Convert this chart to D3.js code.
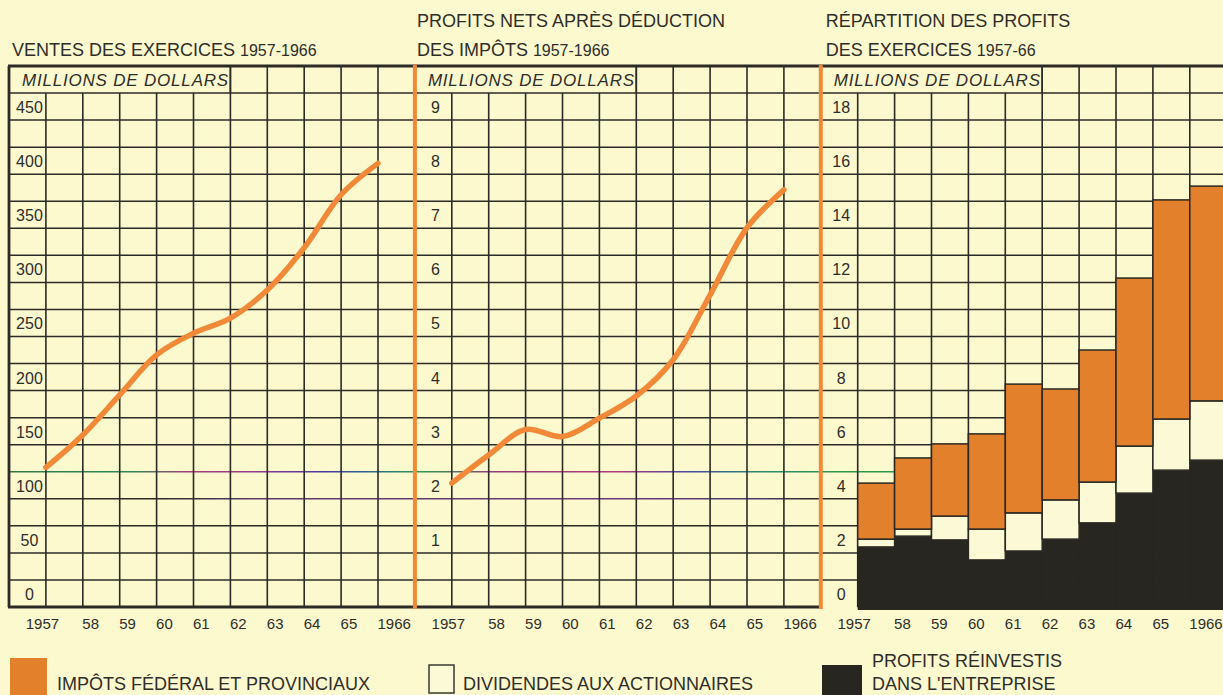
<!DOCTYPE html>
<html><head><meta charset="utf-8">
<script src="https://cdn.jsdelivr.net/npm/d3@7"></script>
<style>
html,body{margin:0;padding:0;background:#fcf9cf;overflow:hidden;}
svg{display:block;}
text{font-family:"Liberation Sans",Arial,Helvetica,sans-serif;fill:#2f2d29;}
</style></head><body>
<svg id="chart" width="1223" height="695"></svg>
<script>
// ---------- data ----------
const years = [1957, 1958, 1959, 1960, 1961, 1962, 1963, 1964, 1965, 1966];
const yearLabels = ["1957", "58", "59", "60", "61", "62", "63", "64", "65", "1966"];
const salesTicks = [0, 50, 100, 150, 200, 250, 300, 350, 400, 450];
const profitTicks = [1, 2, 3, 4, 5, 6, 7, 8, 9];
const splitTicks = [0, 2, 4, 6, 8, 10, 12, 14, 16, 18];
// ventes (millions $)
const sales = [129, 159, 196, 233, 253, 267, 293, 332, 381, 410];
// profits nets après impôts (millions $)
const netProfits = [2.29, 2.81, 3.28, 3.15, 3.49, 3.90, 4.57, 5.77, 7.01, 7.71];
// répartition des profits (millions $)
const reinvested = [2.22, 2.62, 2.48, 1.74, 2.07, 2.51, 3.11, 4.21, 5.06, 5.43];
const dividends = [0.29, 0.26, 0.88, 1.14, 1.41, 1.45, 1.51, 1.74, 1.89, 2.19];
const taxes = [2.07, 2.63, 2.67, 3.52, 4.76, 4.10, 4.88, 6.21, 8.10, 7.94];
const panelTitles = [
  ["VENTES DES EXERCICES", "1957-1966"],
  ["PROFITS NETS APRÈS DÉDUCTION", "DES IMPÔTS", "1957-1966"],
  ["RÉPARTITION DES PROFITS", "DES EXERCICES", "1957-66"]
];
const unitLabel = "MILLIONS DE DOLLARS";
const legendLabels = ["IMPÔTS FÉDÉRAL ET PROVINCIAUX", "DIVIDENDES AUX ACTIONNAIRES", "PROFITS RÉINVESTIS", "DANS L'ENTREPRISE"];

// ---------- styles ----------
const W = 1223, H = 695;
const BG = "#fcf9cf", GRID = "#2c2b27", ORANGE_LINE = "#f08a38", ORANGE_BAR = "#e2802c", BLACK = "#272621", WHITE_BOX = "#fcf9d6";
const gx0 = 9, colW = 36.9, nCols = 33;
const bottomY = 607, rowH = 27.05;

const svg = d3.select("#chart");
svg.append("rect").attr("width", W).attr("height", H).attr("fill", BG);

// print artefact tints on two grid lines
const defs = svg.append("defs");
const g1 = defs.append("linearGradient").attr("id", "tint1").attr("gradientUnits", "userSpaceOnUse")
  .attr("x1", 9).attr("x2", 1223).attr("y1", 0).attr("y2", 0);
[[0, "#2f7a45"], [0.1, "#2f8a55"], [0.15, "#a83a7a"], [0.2, "#9a3a8a"], [0.26, "#4a3aa0"], [0.3, "#2a6a8a"], [0.34, "#2f9a50"],
 [0.4, "#9a3a7a"], [0.5, "#b03a7a"], [0.56, "#4a4aa0"], [0.62, "#2a8a6a"], [0.7, "#2f9a45"], [0.74, "#2f9a45"], [0.76, GRID], [1, GRID]]
  .forEach(s => g1.append("stop").attr("offset", s[0]).attr("stop-color", s[1]));
const g2 = defs.append("linearGradient").attr("id", "tint2").attr("gradientUnits", "userSpaceOnUse")
  .attr("x1", 9).attr("x2", 1223).attr("y1", 0).attr("y2", 0);
[[0, GRID], [0.12, GRID], [0.2, "#5a3a6a"], [0.5, "#6a3a7a"], [0.62, "#4a3a6a"], [0.66, GRID], [1, GRID]]
  .forEach(s => g2.append("stop").attr("offset", s[0]).attr("stop-color", s[1]));

// shared vertical scale (panel-1 units; 25 per grid row)
const yBase = d3.scaleLinear().domain([0, 500]).range([bottomY, bottomY - 20 * rowH]);
const ySales = d3.scaleLinear().domain([0, 450]).range([yBase(0), yBase(450)]);
const yProfit = d3.scaleLinear().domain([0, 9]).range([yBase(0), yBase(450)]);
const ySplit = d3.scaleLinear().domain([0, 18]).range([yBase(0), yBase(450)]);
const xCol = d3.scaleLinear().domain([0, 1]).range([gx0, gx0 + colW]);
const panelX = p => xCol(p * 11);

const grid = svg.append("g");
// horizontal grid lines
const hVals = d3.range(25, 500, 25);
grid.selectAll("line.h").data(hVals).join("line")
  .attr("x1", gx0).attr("x2", W)
  .attr("y1", d => yBase(d)).attr("y2", d => yBase(d) + 0.01)
  .attr("stroke", d => d === 125 ? "url(#tint1)" : d === 100 ? "url(#tint2)" : GRID)
  .attr("stroke-width", 1.5);
// vertical grid lines
const vIdx = d3.range(1, nCols + 1).filter(k => k % 11 !== 0);
grid.selectAll("line.v").data(vIdx).join("line")
  .attr("x1", d => xCol(d)).attr("x2", d => xCol(d))
  .attr("y1", d => (d % 11) <= 5 ? yBase(475) : yBase(500))
  .attr("y2", yBase(0))
  .attr("stroke", GRID).attr("stroke-width", 1.6);

// panels
const panels = [
  {y: ySales, ticks: salesTicks},
  {y: yProfit, ticks: profitTicks},
  {y: ySplit, ticks: splitTicks}
];

panels.forEach((P, p) => {
  const px = panelX(p);
  const xLine = d3.scaleLinear().domain([1957, 1966]).range([px + colW, px + 10 * colW]);
  P.xLine = xLine;
  P.xBand = d3.scaleBand().domain(years).range([px + colW, px + 11 * colW]).padding(0);
  // y tick labels
  const ax = svg.append("g").attr("transform", `translate(${px + colW / 2 + 2},0)`)
    .call(d3.axisLeft(P.y).tickValues(P.ticks).tickSize(0).tickFormat(d3.format("d")));
  ax.select(".domain").remove();
  ax.selectAll("text").attr("x", 0).attr("dy", 0).attr("text-anchor", "middle")
    .attr("transform", `translate(0,${-rowH / 2 + 6})`)
    .style("font-family", '"Liberation Sans",Arial,sans-serif').style("font-size", "16px").style("fill", "#2f2d29");
  // x tick labels
  const bx = svg.append("g").attr("transform", `translate(0,${bottomY})`)
    .call(d3.axisBottom(xLine).tickValues(years).tickSize(0).tickFormat((d, i) => yearLabels[i]));
  bx.select(".domain").remove();
  bx.selectAll("text").attr("y", 22).attr("dy", 0)
    .attr("text-anchor", (d, i) => i === 0 ? "middle" : "start")
    .attr("x", (d, i) => i === 0 ? -4 : -1)
    .style("font-family", '"Liberation Sans",Arial,sans-serif').style("font-size", "15px").style("fill", "#2f2d29");
  // unit header cell
  svg.append("line").attr("x1", xCol(p * 11 + 6)).attr("x2", xCol(p * 11 + 6))
    .attr("y1", yBase(500)).attr("y2", yBase(475)).attr("stroke", GRID).attr("stroke-width", 1.6);
  svg.append("text").attr("x", px + 13).attr("y", yBase(487.5) + 6)
    .attr("font-style", "italic").attr("font-size", 17).attr("letter-spacing", 0.8)
    .text(unitLabel);
});

// panel 3 stacked bars
const rows = years.map((yr, i) => ({year: yr, reinvested: reinvested[i], dividends: dividends[i], taxes: taxes[i]}));
const stack = d3.stack().keys(["reinvested", "dividends", "taxes"])(rows);
const fills = {reinvested: BLACK, dividends: WHITE_BOX, taxes: ORANGE_BAR};
const P3 = panels[2];
const barG = svg.append("g");
stack.forEach(layer => {
  barG.append("g").selectAll("rect").data(layer).join("rect")
    .attr("x", d => P3.xBand(d.data.year))
    .attr("width", P3.xBand.bandwidth())
    .attr("y", d => P3.y(d[1]))
    .attr("height", d => P3.y(d[0]) - P3.y(d[1]))
    .attr("fill", fills[layer.key])
    .attr("stroke", layer.key === "reinvested" ? BLACK : "#2a2823")
    .attr("stroke-width", layer.key === "reinvested" ? 0.5 : 1.5);
});
// black floor down to bottom edge
barG.append("rect").attr("x", P3.xBand(1957)).attr("y", yBase(0) - 1)
  .attr("width", W - P3.xBand(1957)).attr("height", 4).attr("fill", BLACK);

// lines
const lineGen = (P, vals) => d3.line().x((d, i) => P.xLine(years[i])).y(d => P.y(d)).curve(d3.curveCatmullRom.alpha(0.5))(vals);
svg.append("path").attr("d", lineGen(panels[0], sales))
  .attr("fill", "none").attr("stroke", ORANGE_LINE).attr("stroke-width", 5.5).attr("stroke-linecap", "round");
svg.append("path").attr("d", lineGen(panels[1], netProfits))
  .attr("fill", "none").attr("stroke", ORANGE_LINE).attr("stroke-width", 5.5).attr("stroke-linecap", "round");

// frame
svg.append("line").attr("x1", gx0 - 1).attr("x2", W).attr("y1", yBase(500)).attr("y2", yBase(500)).attr("stroke", GRID).attr("stroke-width", 2.8);
svg.append("line").attr("x1", gx0 - 1).attr("x2", panelX(2)).attr("y1", yBase(0)).attr("y2", yBase(0)).attr("stroke", GRID).attr("stroke-width", 3);
svg.append("line").attr("x1", gx0).attr("x2", gx0).attr("y1", yBase(500)).attr("y2", yBase(0)).attr("stroke", GRID).attr("stroke-width", 2.8);
// orange separators
[1, 2].forEach(p => {
  svg.append("line").attr("x1", panelX(p)).attr("x2", panelX(p))
    .attr("y1", yBase(500) - 1).attr("y2", yBase(0) + 2)
    .attr("stroke", ORANGE_LINE).attr("stroke-width", 4);
});

// titles
const t0 = svg.append("text").attr("x", panelX(0) + 3).attr("y", 56).attr("font-size", 18);
t0.append("tspan").text(panelTitles[0][0] + " ");
t0.append("tspan").attr("font-size", 16).text(panelTitles[0][1]);
svg.append("text").attr("x", panelX(1) + 2).attr("y", 27).attr("font-size", 18).text(panelTitles[1][0]);
const t1 = svg.append("text").attr("x", panelX(1) + 2).attr("y", 56).attr("font-size", 18);
t1.append("tspan").text(panelTitles[1][1] + " ");
t1.append("tspan").attr("font-size", 16).text(panelTitles[1][2]);
svg.append("text").attr("x", panelX(2) + 5).attr("y", 27).attr("font-size", 18).text(panelTitles[2][0]);
const t2 = svg.append("text").attr("x", panelX(2) + 5).attr("y", 56).attr("font-size", 18);
t2.append("tspan").text(panelTitles[2][1] + " ");
t2.append("tspan").attr("font-size", 16).text(panelTitles[2][2]);

// legend
const lg = svg.append("g");
lg.append("rect").attr("x", 10).attr("y", 658).attr("width", 37).attr("height", 40).attr("fill", ORANGE_BAR);
lg.append("text").attr("x", 57).attr("y", 690).attr("font-size", 18).text(legendLabels[0]);
lg.append("rect").attr("x", 429).attr("y", 665).attr("width", 25).attr("height", 28).attr("fill", WHITE_BOX).attr("stroke", "#3a3832").attr("stroke-width", 1.5);
lg.append("text").attr("x", 463).attr("y", 690).attr("font-size", 18).text(legendLabels[1]);
lg.append("rect").attr("x", 822).attr("y", 665).attr("width", 40).attr("height", 32).attr("fill", BLACK);
lg.append("text").attr("x", 872).attr("y", 667).attr("font-size", 18).text(legendLabels[2]);
lg.append("text").attr("x", 872).attr("y", 690).attr("font-size", 18).text(legendLabels[3]);
</script>
</body></html>
